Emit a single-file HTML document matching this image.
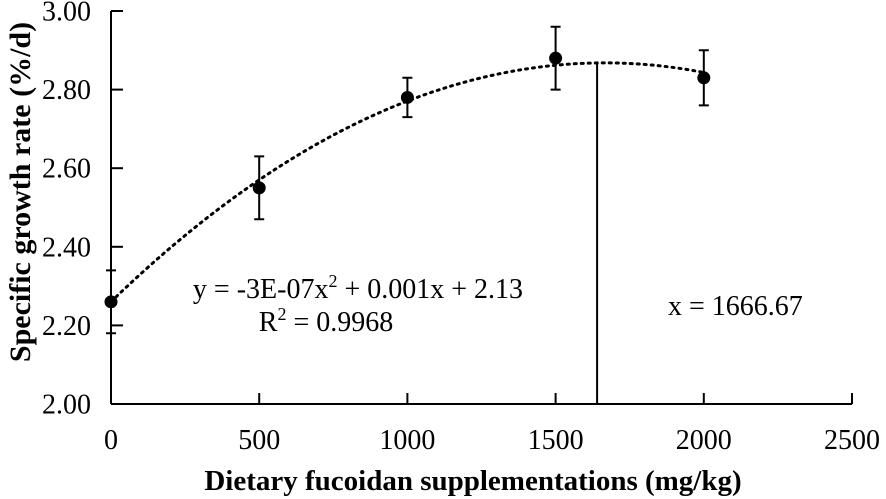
<!DOCTYPE html>
<html><head><meta charset="utf-8"><style>
body{margin:0;background:#fff}
svg{display:block;font-family:"Liberation Serif",serif}
</style></head><body>
<svg id="c" width="886" height="499"></svg>
<script>
const categories=[0,500,1000,1500,2000];
const values=[2.26,2.55,2.78,2.88,2.83];
const errors=[0.08,0.08,0.05,0.08,0.07];
const yTicks=[2.00,2.20,2.40,2.60,2.80,3.00];
const xTicks=[0,500,1000,1500,2000,2500];
const fitPeak=[1666,2.868];
const fitA=-2.19e-7;
const markerX=1640;
const svg=document.getElementById('c');
const NS='http://www.w3.org/2000/svg';
const X=v=>111+v*(852-111)/2500;
const Y=v=>404-(v-2)*(404-11)/1;
function mk(t,a,txt){const e=document.createElementNS(NS,t);for(const k in a)e.setAttribute(k,a[k]);if(txt!=null)e.textContent=txt;svg.appendChild(e);return e;}
let e;
e=mk('line',{x1:111,y1:11,x2:111,y2:404,stroke:'#000','stroke-width':2});


e=mk('line',{x1:111,y1:404,x2:852,y2:404,stroke:'#000','stroke-width':2});


yTicks.forEach(t=>{
 e=mk('line',{x1:111,y1:Y(t),x2:123,y2:Y(t),stroke:'#000','stroke-width':2});
 
 
 e=mk('text',{x:91,y:Y(t)+9.5,'text-anchor':'end','font-size':28},t.toFixed(2));
 
 
});
xTicks.forEach(t=>{
 if(t>0){e=mk('line',{x1:X(t),y1:393,x2:X(t),y2:404,stroke:'#000','stroke-width':2});
 
 }
 e=mk('text',{x:X(t),y:449,'text-anchor':'middle','font-size':28},String(t));
 
 
});
let d='';
for(let x=0;x<=2000;x+=20){const y=fitA*(x-fitPeak[0])**2+fitPeak[1];d+=(x?'L':'M')+X(x)+','+Y(y);}
e=mk('path',{d:d,fill:'none',stroke:'#000','stroke-width':3,'stroke-dasharray':'2 5','stroke-linecap':'round'});


e=mk('line',{x1:X(markerX),y1:Y(fitA*(markerX-fitPeak[0])**2+fitPeak[1]),x2:X(markerX),y2:404,stroke:'#000','stroke-width':2});


categories.forEach((c,i)=>{
 const x=X(c),t=Y(values[i]+errors[i]),b=Y(values[i]-errors[i]);
 e=mk('path',{d:`M${x},${t}V${b}M${x-5},${t}H${x+5}M${x-5},${b}H${x+5}`,stroke:'#000','stroke-width':2,fill:'none'});
 
 
 e=mk('circle',{cx:x,cy:Y(values[i]),r:6.5,fill:'#000'});
 
 
});
e=mk('text',{x:358,y:298,'text-anchor':'middle','font-size':28});
e.innerHTML='y = -3E-07x<tspan font-size="18" dy="-11">2</tspan><tspan dy="11"> + 0.001x + 2.13</tspan>';


e=mk('text',{x:326,y:331,'text-anchor':'middle','font-size':28});
e.innerHTML='R<tspan font-size="18" dy="-11">2</tspan><tspan dy="11"> = 0.9968</tspan>';


e=mk('text',{x:668,y:315,'font-size':28},'x = 1666.67');


e=mk('text',{x:473,y:490,'text-anchor':'middle','font-size':29,'font-weight':'bold'},'Dietary fucoidan supplementations (mg/kg)');


e=mk('text',{x:0,y:0,'text-anchor':'middle','font-size':30,'font-weight':'bold',transform:'translate(30,192) rotate(-90)'},'Specific growth rate (%/d)');


</script>
</body></html>
